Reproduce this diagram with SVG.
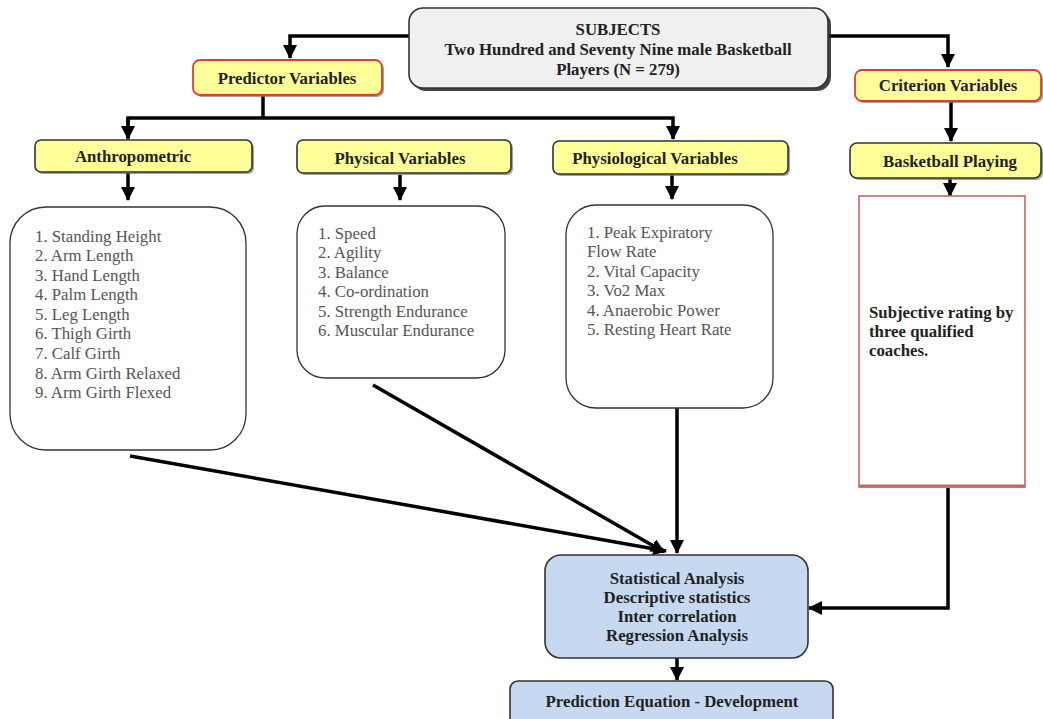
<svg xmlns="http://www.w3.org/2000/svg" width="1043" height="719" viewBox="0 0 1043 719">
<style>
.t{font-family:"Liberation Serif","Times New Roman",serif;}
.b{font-weight:bold;fill:#222;font-size:16.8px;}
.li{fill:#555;font-size:16.8px;}
.hdr{fill:#ffff99;stroke:#333;stroke-width:1.6;}
.hdrR{fill:#ffff99;stroke:#e0402a;stroke-width:1.8;}
.sh{fill:#777;opacity:0.7;}
.lst{fill:#fff;stroke:#333;stroke-width:1.3;}
.blue{fill:#c6d9f0;stroke:#333;stroke-width:1.6;}
.c{fill:none;stroke:#000;stroke-width:3.5;}
</style>
<defs>
<marker id="ah" markerUnits="userSpaceOnUse" markerWidth="14" markerHeight="14" viewBox="0 0 14 14" refX="13" refY="7" orient="auto">
<path d="M0,0 L14,7 L0,14 Z" fill="#000"/>
</marker>
</defs>

<g id="connectors">
<polyline class="c" points="409,36 290,36 290,58" marker-end="url(#ah)"/>
<polyline class="c" points="828,36 948,36 948,67" marker-end="url(#ah)"/>
<line class="c" x1="263" y1="95" x2="263" y2="118"/>
<polyline class="c" points="128,138 128,118 673,118 673,139" marker-end="url(#ah)"/>
<line class="c" x1="128" y1="118" x2="128" y2="139" marker-end="url(#ah)"/>
<line class="c" x1="128" y1="173" x2="128" y2="200" marker-end="url(#ah)"/>
<line class="c" x1="400" y1="175" x2="400" y2="200" marker-end="url(#ah)"/>
<line class="c" x1="672" y1="175" x2="672" y2="199" marker-end="url(#ah)"/>
<line class="c" x1="951" y1="102" x2="951" y2="141" marker-end="url(#ah)"/>
<line class="c" x1="950" y1="178" x2="950" y2="196" marker-end="url(#ah)"/>
<line class="c" x1="130" y1="456" x2="666" y2="551" marker-end="url(#ah)"/>
<line class="c" x1="373" y1="385" x2="664" y2="552" marker-end="url(#ah)"/>
<line class="c" x1="677" y1="408" x2="677" y2="553" marker-end="url(#ah)"/>
<polyline class="c" points="948,488 948,608 809,608" marker-end="url(#ah)"/>
<line class="c" x1="677" y1="658" x2="677" y2="680" marker-end="url(#ah)"/>
</g>

<g id="subjects">
<rect x="412" y="11" width="419" height="80" rx="14" fill="#222" opacity="0.85"/>
<rect x="409" y="8" width="419" height="80" rx="14" fill="#f0f0f0" stroke="#333" stroke-width="1.6"/>
<text class="t b" x="618" y="35" text-anchor="middle">SUBJECTS</text>
<text class="t b" x="618" y="55" text-anchor="middle">Two Hundred and Seventy Nine male Basketball</text>
<text class="t b" x="618" y="75" text-anchor="middle">Players (N = 279)</text>
</g>

<g id="predictor">
<rect class="sh" x="195" y="62" width="189" height="35" rx="7"/>
<rect class="hdrR" x="193" y="60" width="189" height="35" rx="7"/>
<text class="t b" x="287" y="84" text-anchor="middle">Predictor Variables</text>
</g>

<g id="criterion">
<rect class="sh" x="857" y="72" width="186" height="31" rx="7"/>
<rect class="hdrR" x="855" y="70" width="186" height="31" rx="7"/>
<text class="t b" x="948" y="91" text-anchor="middle">Criterion Variables</text>
</g>

<g id="anthropometric">
<rect class="sh" x="37" y="142" width="217" height="32" rx="6"/>
<rect class="hdr" x="35" y="140" width="217" height="32" rx="6"/>
<text class="t b" x="133" y="162" text-anchor="middle">Anthropometric</text>
</g>

<g id="physical">
<rect class="sh" x="299" y="142" width="214" height="33" rx="6"/>
<rect class="hdr" x="297" y="140" width="214" height="33" rx="6"/>
<text class="t b" x="400" y="164" text-anchor="middle">Physical Variables</text>
</g>

<g id="physiological">
<rect class="sh" x="555" y="143" width="235" height="33" rx="6"/>
<rect class="hdr" x="553" y="141" width="235" height="33" rx="6"/>
<text class="t b" x="655" y="164" text-anchor="middle">Physiological Variables</text>
</g>

<g id="basketball">
<rect class="sh" x="852" y="145" width="191" height="35" rx="7"/>
<rect class="hdr" x="850" y="143" width="191" height="35" rx="7"/>
<text class="t b" x="950" y="167" text-anchor="middle">Basketball Playing</text>
</g>

<g id="anthro-list">
<rect class="lst" x="10" y="207" width="236" height="243" rx="36"/>
<text class="t li" x="35" y="242">1. Standing Height</text>
<text class="t li" x="35" y="261">2. Arm Length</text>
<text class="t li" x="35" y="281">3. Hand Length</text>
<text class="t li" x="35" y="300">4. Palm Length</text>
<text class="t li" x="35" y="320">5. Leg Length</text>
<text class="t li" x="35" y="339">6. Thigh Girth</text>
<text class="t li" x="35" y="359">7. Calf Girth</text>
<text class="t li" x="35" y="379">8. Arm Girth Relaxed</text>
<text class="t li" x="35" y="398">9. Arm Girth Flexed</text>
</g>

<g id="physical-list">
<rect class="lst" x="297" y="206" width="208" height="172" rx="28"/>
<text class="t li" x="318" y="239">1. Speed</text>
<text class="t li" x="318" y="258">2. Agility</text>
<text class="t li" x="318" y="278">3. Balance</text>
<text class="t li" x="318" y="297">4. Co-ordination</text>
<text class="t li" x="318" y="317">5. Strength Endurance</text>
<text class="t li" x="318" y="336">6. Muscular Endurance</text>
</g>

<g id="physio-list">
<rect class="lst" x="566" y="205" width="207" height="203" rx="30"/>
<text class="t li" x="587" y="238">1. Peak Expiratory</text>
<text class="t li" x="587" y="257">Flow Rate</text>
<text class="t li" x="587" y="277">2. Vital Capacity</text>
<text class="t li" x="587" y="296">3. Vo2 Max</text>
<text class="t li" x="587" y="316">4. Anaerobic Power</text>
<text class="t li" x="587" y="335">5. Resting Heart Rate</text>
</g>

<g id="subjective">
<rect x="859" y="196" width="166" height="291" fill="#fff" stroke="#c86464" stroke-width="1.6"/>
<line x1="859" y1="486" x2="1025" y2="486" stroke="#c86464" stroke-width="3"/>
<text class="t b" x="869" y="318">Subjective rating by</text>
<text class="t b" x="869" y="337">three qualified</text>
<text class="t b" x="869" y="356">coaches.</text>
</g>

<g id="statistical">
<rect class="blue" x="545" y="555" width="263" height="103" rx="16"/>
<text class="t b" x="677" y="584" text-anchor="middle">Statistical Analysis</text>
<text class="t b" x="677" y="603" text-anchor="middle">Descriptive statistics</text>
<text class="t b" x="677" y="622" text-anchor="middle">Inter correlation</text>
<text class="t b" x="677" y="641" text-anchor="middle">Regression Analysis</text>
</g>

<g id="prediction">
<rect class="blue" x="510" y="681" width="323" height="45" rx="8"/>
<text class="t b" x="672" y="707" text-anchor="middle">Prediction Equation - Development</text>
</g>
</svg>
